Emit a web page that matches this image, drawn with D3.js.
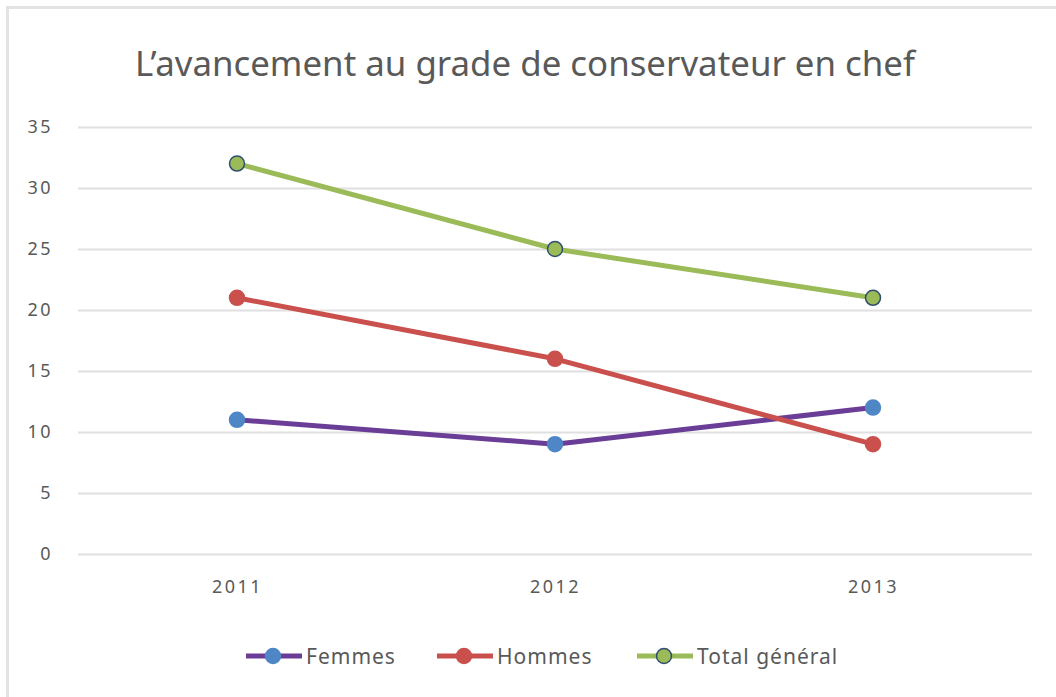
<!DOCTYPE html>
<html>
<head>
<meta charset="utf-8">
<script src="https://cdn.jsdelivr.net/npm/d3@7"></script>
<style>
  body { margin: 0; background: #fff; }
  text { font-family: "Noto Sans", sans-serif; fill: #595959; }
</style>
</head>
<body>
<div id="chart"></div>
<script>
// data
var years = ["2011", "2012", "2013"];
var femmes = [11, 9, 12];
var hommes = [21, 16, 9];
var total = [32, 25, 21];
var yTicks = [0, 5, 10, 15, 20, 25, 30, 35];

var series = [
  { name: "Femmes", values: femmes, line: "#6a3d96", fill: "#4f86c6", stroke: "#4f86c6" },
  { name: "Hommes", values: hommes, line: "#c9504c", fill: "#c9504c", stroke: "#c9504c" },
  { name: "Total général", values: total, line: "#9bbb59", fill: "#9bbb59", stroke: "#2f4f6f" }
];

var width = 1056, height = 697;

var svg = d3.select("#chart").append("svg")
  .attr("width", width)
  .attr("height", height);

// frame (only top/left visible in the picture)
svg.append("path")
  .attr("d", "M7.5," + height + "V7.5H" + width)
  .attr("fill", "none")
  .attr("stroke", "#e3e3e3")
  .attr("stroke-width", 3);

// scales
var x = d3.scalePoint().domain(years).range([78, 1032]).padding(0.5);
var y = d3.scaleLinear().domain([0, 35]).range([554, 127]);

// title
svg.append("text")
  .attr("x", 525)
  .attr("y", 76)
  .attr("text-anchor", "middle")
  .attr("textLength", 780)
  .attr("lengthAdjust", "spacingAndGlyphs")
  .style("font-size", "34px")
  .text("L’avancement au grade de conservateur en chef");

// grid
svg.append("g").selectAll("line")
  .data(yTicks)
  .enter().append("line")
  .attr("x1", 78).attr("x2", 1032)
  .attr("y1", function (d) { return y(d) + 0.5 })
  .attr("y2", function (d) { return y(d) + 0.5 })
  .attr("stroke", "#e0e0e0")
  .attr("stroke-width", 2);

// y axis labels
var yAxis = d3.axisLeft(y).tickValues(yTicks).tickSize(0).tickPadding(0);
var gy = svg.append("g").attr("transform", "translate(53,0)").call(yAxis);
gy.select(".domain").remove();
gy.selectAll("text").style("font-size", "18px").attr("fill", "#595959").attr("letter-spacing", "2.5px");

// x axis labels
var xAxis = d3.axisBottom(x).tickSize(0).tickPadding(0);
var gx = svg.append("g").attr("transform", "translate(0,580)").call(xAxis);
gx.select(".domain").remove();
gx.selectAll("text").style("font-size", "18px").attr("fill", "#595959").attr("letter-spacing", "2.5px");

// lines
var line = d3.line()
  .x(function (d, i) { return x(years[i]) })
  .y(function (d) { return y(d) });

series.forEach(function (s) {
  svg.append("path")
    .datum(s.values)
    .attr("d", line)
    .attr("fill", "none")
    .attr("stroke", s.line)
    .attr("stroke-width", 5)
    .attr("stroke-linejoin", "round");

  svg.append("g").selectAll("circle")
    .data(s.values)
    .enter().append("circle")
    .attr("cx", function (d, i) { return x(years[i]) })
    .attr("cy", function (d) { return y(d) })
    .attr("r", 7.5)
    .attr("fill", s.fill)
    .attr("stroke", s.stroke)
    .attr("stroke-width", 1.5);
});

// legend
var legendX = [246, 437, 637];
var leg = svg.append("g").selectAll("g")
  .data(series)
  .enter().append("g")
  .attr("transform", function (d, i) { return "translate(" + legendX[i] + ",656)" });

leg.append("line")
  .attr("x1", 0).attr("x2", 56)
  .attr("stroke", function (d) { return d.line })
  .attr("stroke-width", 5);

leg.append("circle")
  .attr("cx", 27)
  .attr("r", 7.5)
  .attr("fill", function (d) { return d.fill })
  .attr("stroke", function (d) { return d.stroke })
  .attr("stroke-width", 1.5);

leg.append("text")
  .attr("x", 60)
  .attr("y", 8)
  .style("font-size", "21px")
  .attr("letter-spacing", "1px")
  .text(function (d) { return d.name });
</script>
</body>
</html>
